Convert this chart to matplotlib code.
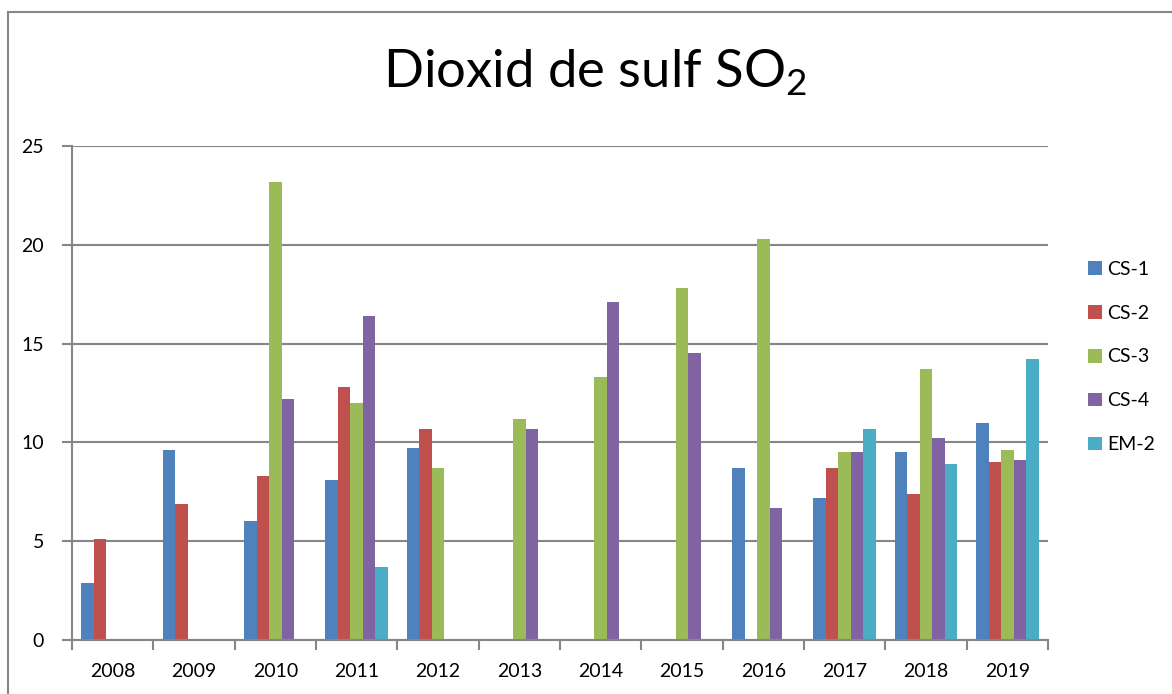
import numpy as np
import matplotlib
matplotlib.use("Agg")
import matplotlib.pyplot as plt
from matplotlib.lines import Line2D

plt.rcParams['font.family'] = ['Lato', 'DejaVu Sans']
plt.rcParams['mathtext.fontset'] = 'custom'
plt.rcParams['mathtext.rm'] = 'Lato'

nan = np.nan
years = ["2008", "2009", "2010", "2011", "2012", "2013", "2014", "2015", "2016", "2017", "2018", "2019"]
series_names = ["CS-1", "CS-2", "CS-3", "CS-4", "EM-2"]
cs1 = [2.9, 9.6, 6.0, 8.1, 9.7, nan, nan, nan, 8.7, 7.2, 9.5, 11.0]
cs2 = [5.1, 6.9, 8.3, 12.8, 10.7, nan, nan, nan, nan, 8.7, 7.4, 9.0]
cs3 = [nan, nan, 23.2, 12.0, 8.7, 11.2, 13.3, 17.8, 20.3, 9.5, 13.7, 9.6]
cs4 = [nan, nan, 12.2, 16.4, nan, 10.7, 17.1, 14.5, 6.7, 9.5, 10.2, 9.1]
em2 = [nan, nan, nan, 3.7, nan, nan, nan, nan, nan, 10.7, 8.9, 14.2]
colors = ["#4F81BD", "#C0504D", "#9BBB59", "#8064A2", "#4BACC6"]

grey = "#868686"
W, H = 1172, 694
fig = plt.figure(figsize=(W/100, H/100), dpi=100)
ax = fig.add_axes([72/W, 1-640/H, (1048-72)/W, (640-146)/H])

# outer chart border (only top and left visible in the crop)
fig.add_artist(Line2D([8/W, 8/W], [0, 1-12/H], color=grey, lw=1.5))
fig.add_artist(Line2D([8/W, 1], [1-12/H, 1-12/H], color=grey, lw=1.5))

x = np.arange(len(years))
bw = 1 / 6.5
for i, (vals, c) in enumerate(zip([cs1, cs2, cs3, cs4, em2], colors)):
    ax.bar(x + (i - 2) * bw, np.array(vals, dtype=float), width=bw, color=c,
           label=series_names[i], zorder=3)

ax.set_xlim(-0.5, len(years) - 0.5)
ax.set_ylim(0, 25)
ax.set_yticks([0, 5, 10, 15, 20, 25])
ax.set_xticks(x)
ax.set_xticklabels(years)
ax.set_xticks(np.arange(len(years) + 1) - 0.5, minor=True)
ax.tick_params(axis='x', which='major', length=0, pad=16.5, labelsize=14)
ax.tick_params(axis='x', which='minor', length=7, color=grey, width=1.5)
ax.tick_params(axis='y', length=7, color=grey, width=1.5, labelsize=14, pad=13)
ax.grid(axis='y', color=grey, lw=1.5, zorder=0)
for s in ['top', 'right']:
    ax.spines[s].set_visible(False)
for s in ['left', 'bottom']:
    ax.spines[s].set_color(grey)
    ax.spines[s].set_linewidth(1.5)
    ax.spines[s].set_zorder(4)

# title: fit to the width seen in the original (x 383..807, baseline ~87)
title = fig.text(383/W, 1-87/H, r"Dioxid de sulf SO$_\mathregular{2}$", fontsize=38,
                 ha='left', va='baseline')
r = fig.canvas.get_renderer()
tw = title.get_window_extent(r).width
title.set_fontsize(38 * 424 / tw)

fig.legend(loc='center left', bbox_to_anchor=(1088/W, 1-357/H), frameon=False,
           borderaxespad=0, borderpad=0,
           fontsize=14, handlelength=0.7, handleheight=0.7, handletextpad=0.3,
           labelspacing=1.38)

fig.savefig("out.png", dpi=100)
